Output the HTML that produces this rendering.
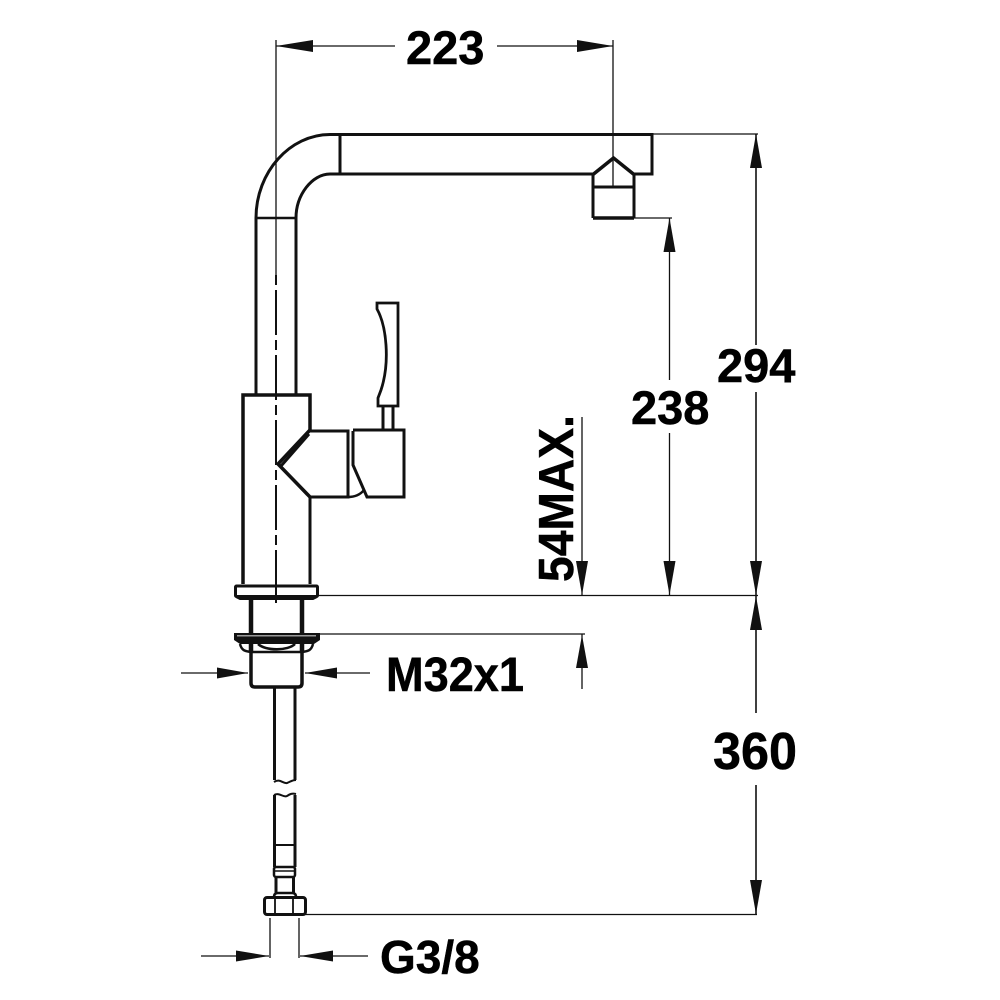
<!DOCTYPE html>
<html><head><meta charset="utf-8"><style>html,body{margin:0;padding:0;background:#fff}svg{display:block}text{font-family:"Liberation Sans",sans-serif;font-weight:bold;fill:#000;stroke:#000;stroke-width:.5}</style></head>
<body><svg width="1000" height="1000" viewBox="0 0 1000 1000" xmlns="http://www.w3.org/2000/svg">
<rect width="1000" height="1000" fill="#fff"/>
<!-- thin dimension lines -->
<g stroke="#111" stroke-width="1.300" fill="none">
<path d="M276 40V275"/>
<path d="M613 40V187"/>
<path d="M276 46H395M497 46H613"/>
<path d="M652 134H758M634 218H672M318 595.500H758M318 634H585M304 914.500H757"/>
<path d="M756 134V345M756 392V595M756 595V713M756 785V914" stroke-width="1.600"/>
<path d="M669.500 218V380M669.500 433V595"/>
<path d="M582 417V595"/>
<path d="M582 634V689"/>
<path d="M181 673H248M305 673H370"/>
<path d="M201 956H269M300 956H368"/>
<path d="M270 918V958M299 918V958"/>
</g>
<!-- centre line -->
<path d="M276 275V603" stroke="#111" stroke-width="2" fill="none" stroke-dasharray="10 5 45 5"/>
<!-- arrowheads -->
<g fill="#111">
<path d="M276 46L313 40V52Z"/><path d="M613 46L577 40V52Z"/>
<path d="M756 134L750 168H762Z"/><path d="M756 595L750 561H762Z"/>
<path d="M756 596L750 630H762Z"/><path d="M756 914L750 880H762Z"/>
<path d="M669.500 218L663.500 252H675.500Z"/><path d="M669.500 595L663.500 561H675.500Z"/>
<path d="M582 595L576 561H588Z"/>
<path d="M582 635L576 668H588Z"/>
<path d="M248 673L217 667.500V678.500Z"/><path d="M305 673L337 667.500V678.500Z"/>
<path d="M269 956L236 950.500V961.500Z"/><path d="M300 956L333 950.500V961.500Z"/>
</g>
<!-- spout -->
<g stroke="#111" stroke-width="3" fill="none" stroke-linejoin="miter">
<path d="M256 395V218C256 172 290 134.500 330 134.500H652V174H634"/>
<path d="M296 395V218C296 195 312 174 330 174H593"/>
<path d="M340 134V174"/>
<path d="M256 218H296" stroke-width="2.500"/>
<path d="M593 218V174M634 218V174"/>
<path d="M593 218H634" stroke-width="3.500"/>
<path d="M593 187H634"/>
<path d="M593 174.500L613.500 158 634 174.500" stroke-width="3.500"/>
<!-- body -->
<path d="M243 584V395H310V430" stroke-width="3.500"/>
<path d="M310 497V584"/>
<path d="M310 431H348V497H310" stroke-width="3"/>
<path d="M310 430L278 464 310 497" stroke-width="3.500"/>
<path d="M309 434L281 466" stroke-width="3"/>
<path d="M307 495L282 468" stroke-width="2"/>
<path d="M353 431V465L367 497H404V430H353" stroke-width="3"/>
<path d="M348 497C354 497 360 495 364 490" stroke-width="2.500"/>
<path d="M383 406V431M393 406V431"/>
<path d="M377 303H398V406H378V398L381 390C386 375 387 360 386 345C385 330 382 318 377 309Z" stroke-width="2.800"/>
<!-- base -->
<path d="M251 598V634M302 598V634" stroke-width="4.500"/>
<rect x="235.500" y="586" width="82" height="10.500" rx="1" stroke-width="3"/>
<path d="M236 597L240 599H313L317 597" stroke-width="2"/>
<path d="M251 636V652M302 636V652" stroke-width="4.500"/>
<path d="M240 644C242 652 247 651 251 652H302C306 651 311 652 313 644" stroke-width="2.500"/>
<path d="M258 644C266 651 288 651 295 644" stroke-width="2.500"/>
<path d="M251 652V683Q251 687 255 687H298Q302 687 302 683V652" stroke-width="3.500"/>
<path d="M274.500 687V780M295 687V780" stroke-width="3"/>
<path d="M274 782C280 778 283 784 287 783C290 782 292 780 296 780" stroke-width="2"/>
<path d="M274 795C280 792 283 798 287 796C290 794 292 793 296 794" stroke-width="2"/>
<path d="M274.500 795V867M295 795V867" stroke-width="3"/>
<path d="M274 845H295" stroke-width="2"/>
<rect x="274" y="867" width="21" height="10" rx="2" stroke-width="2.500"/>
<path d="M274 871H295" stroke-width="1.500"/>
<path d="M276 877V893M293.500 877V893" stroke-width="3"/>
<path d="M274 897Q274 893 278 893H292Q296 893 296 897" stroke-width="2.500"/>
<rect x="264.500" y="897.500" width="41" height="17" rx="2.500" stroke-width="3"/>
<path d="M275 897V914M293 897V914" stroke-width="1.800"/>
</g>
<path d="M234 633H320V640L314 644H240L234 640Z" fill="#111"/>
<rect x="237" y="635" width="79" height="1.500" fill="#999"/>
<!-- labels -->
<text x="406" y="64" font-size="47">223</text>
<text x="717" y="382" font-size="47">294</text>
<text x="631" y="424" font-size="47">238</text>
<text x="713" y="769" font-size="52" textLength="84" lengthAdjust="spacingAndGlyphs">360</text>
<text x="386" y="691" font-size="48" textLength="138" lengthAdjust="spacingAndGlyphs">M32x1</text>
<text x="380" y="973" font-size="46">G3/8</text>
<text transform="translate(573 582) rotate(-90)" font-size="49" textLength="167" lengthAdjust="spacingAndGlyphs">54MAX.</text>
</svg></body></html>
